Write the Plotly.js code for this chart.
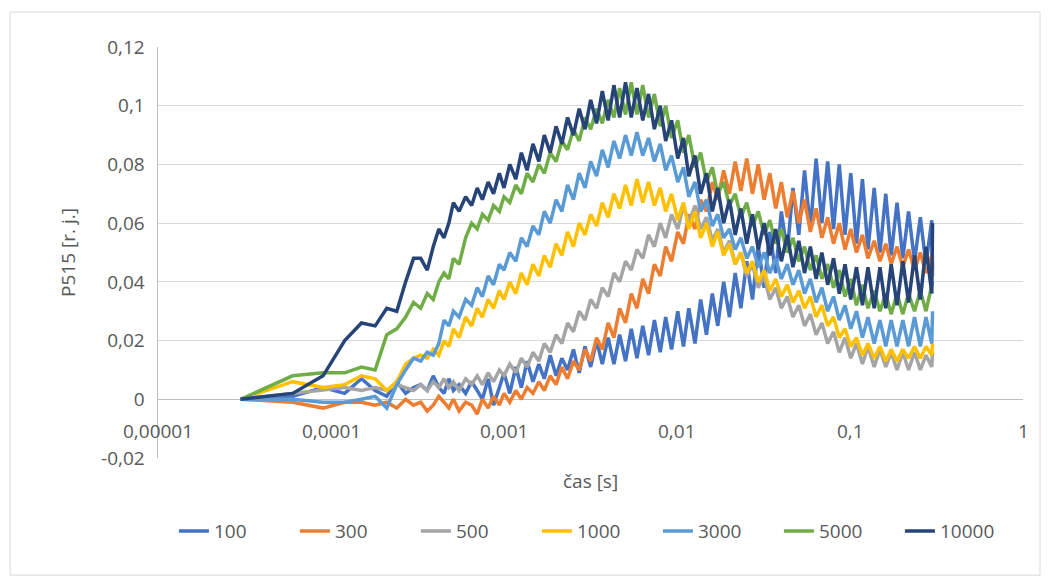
<!DOCTYPE html>
<html>
<head>
<meta charset="utf-8">
<script src="https://cdn.plot.ly/plotly-3.0.1.min.js"></script>
<style>body{margin:0;background:#fff}#chart{width:1049px;height:583px}</style>
</head>
<body>
<div id="chart"></div>
<script>
// time samples [s]
var cas = [3e-5, 6e-5, 9e-5, 1.2e-4, 1.5e-4, 1.8e-4, 2.1e-4, 2.4e-4, 2.7e-4, 3.0e-4,
  3.3e-4, 3.6e-4, 3.9e-4, 4.2e-4, 4.5e-4, 4.8e-4, 5.1e-4, 5.5e-4, 6.0e-4, 6.5e-4,
  7.0e-4, 7.5e-4, 8.1e-4, 8.7e-4, 9.4e-4, 1.0e-3, 1.08e-3, 1.17e-3, 1.26e-3, 1.36e-3,
  1.47e-3, 1.59e-3, 1.71e-3, 1.85e-3, 2.0e-3, 2.16e-3, 2.33e-3, 2.52e-3, 2.72e-3, 2.94e-3,
  3.17e-3, 3.43e-3, 3.70e-3, 4.0e-3, 4.32e-3, 4.66e-3, 5.04e-3, 5.44e-3, 5.87e-3, 6.34e-3,
  6.85e-3, 7.4e-3, 8.0e-3, 8.6e-3, 9.3e-3, 0.0101, 0.0109, 0.0117, 0.0127, 0.0137,
  0.0148, 0.016, 0.0172, 0.0186, 0.0201, 0.0217, 0.0234, 0.0253, 0.0273, 0.0295,
  0.0319, 0.0344, 0.0372, 0.0401, 0.0434, 0.0468, 0.0506, 0.0546, 0.059, 0.0637,
  0.0688, 0.0743, 0.0803, 0.0867, 0.0936, 0.101, 0.109, 0.118, 0.127, 0.138,
  0.149, 0.161, 0.173, 0.187, 0.202, 0.218, 0.236, 0.255, 0.275, 0.297, 0.3];

var s100 = [0, 0.001, 0.004, 0.002, 0.007, 0.003, 0.001, 0.006, 0.002, 0.004,
  0.005, 0.003, 0.008, 0.004, 0.002, 0.007, 0.003, 0.005, 0.002, 0.006,
  0.003, 0.0, 0.007, -0.002, 0.004, 0.009, 0.002, 0.011, 0.004, 0.013,
  0.006, 0.012, 0.007, 0.015, 0.008, 0.014, 0.01, 0.017, 0.009, 0.018,
  0.011, 0.02, 0.012, 0.021, 0.012, 0.022, 0.013, 0.024, 0.014, 0.025,
  0.015, 0.027, 0.016, 0.028, 0.017, 0.03, 0.018, 0.031, 0.019, 0.034,
  0.022, 0.036, 0.025, 0.04, 0.028, 0.043, 0.031, 0.047, 0.034, 0.052,
  0.038, 0.057, 0.043, 0.064, 0.05, 0.072, 0.056, 0.078, 0.058, 0.082,
  0.06, 0.081, 0.058, 0.08, 0.056, 0.077, 0.053, 0.075, 0.051, 0.072,
  0.05, 0.07, 0.049, 0.067, 0.048, 0.064, 0.047, 0.062, 0.046, 0.061, 0.044];

var s300 = [0, -0.001, -0.003, -0.001, -0.001, -0.002, -0.001, -0.003, 0.0, -0.002,
  -0.001, -0.004, -0.002, 0.001, -0.001, -0.003, 0.0, -0.004, -0.001, -0.002,
  -0.005, 0.0, -0.003, 0.001, -0.002, 0.002, -0.001, 0.003, 0.0, 0.004,
  0.002, 0.006, 0.003, 0.008, 0.005, 0.011, 0.007, 0.013, 0.01, 0.017,
  0.013, 0.021, 0.017, 0.026, 0.021, 0.031, 0.026, 0.036, 0.031, 0.041,
  0.036, 0.046, 0.042, 0.052, 0.047, 0.057, 0.053, 0.063, 0.058, 0.068,
  0.064, 0.074, 0.068, 0.078, 0.07, 0.081, 0.071, 0.082, 0.07, 0.08,
  0.068, 0.077, 0.065, 0.074, 0.062, 0.071, 0.06, 0.068, 0.057, 0.065,
  0.055, 0.062, 0.053, 0.06, 0.051, 0.058, 0.05, 0.056, 0.048, 0.054,
  0.047, 0.053, 0.046, 0.052, 0.045, 0.051, 0.044, 0.05, 0.043, 0.049, 0.042];

var s500 = [0, 0.002, 0.003, 0.004, 0.003, 0.004, 0.003, 0.005, 0.004, 0.003,
  0.005, 0.003, 0.006, 0.004, 0.007, 0.004, 0.006, 0.003, 0.007, 0.005,
  0.008, 0.005, 0.009, 0.006, 0.01, 0.008, 0.012, 0.009, 0.014, 0.011,
  0.016, 0.013, 0.019, 0.016, 0.022, 0.019, 0.026, 0.023, 0.03, 0.027,
  0.034, 0.031, 0.038, 0.035, 0.043, 0.04, 0.047, 0.044, 0.051, 0.048,
  0.056, 0.052, 0.06, 0.055, 0.063, 0.058, 0.066, 0.06, 0.066, 0.058,
  0.062, 0.054, 0.058, 0.05, 0.054, 0.046, 0.05, 0.042, 0.046, 0.038,
  0.042, 0.034, 0.038, 0.031, 0.035, 0.028, 0.032, 0.025, 0.029, 0.022,
  0.026, 0.019, 0.023, 0.016, 0.021, 0.014, 0.019, 0.012, 0.018, 0.011,
  0.017, 0.011, 0.016, 0.01, 0.016, 0.01, 0.016, 0.01, 0.015, 0.011, 0.016];

var s1000 = [0, 0.006, 0.004, 0.005, 0.008, 0.007, 0.003, 0.006, 0.012, 0.014,
  0.015, 0.014, 0.017, 0.015, 0.02, 0.018, 0.024, 0.021, 0.028, 0.025,
  0.031, 0.028, 0.034, 0.031, 0.037, 0.034, 0.04, 0.036, 0.043, 0.039,
  0.046, 0.042, 0.049, 0.045, 0.053, 0.049, 0.057, 0.052, 0.06, 0.056,
  0.063, 0.059, 0.067, 0.062, 0.07, 0.065, 0.073, 0.066, 0.075, 0.067,
  0.074, 0.066, 0.072, 0.064, 0.07, 0.061, 0.067, 0.058, 0.064, 0.055,
  0.06, 0.052, 0.057, 0.049, 0.053, 0.046, 0.05, 0.043, 0.047, 0.04,
  0.044, 0.037, 0.041, 0.035, 0.039, 0.033, 0.037, 0.031, 0.035, 0.028,
  0.032, 0.025, 0.028, 0.021, 0.024, 0.018, 0.021, 0.015, 0.019, 0.014,
  0.018, 0.013, 0.017, 0.013, 0.017, 0.014, 0.018, 0.014, 0.018, 0.015, 0.019];

var s3000 = [0, 0.0, -0.001, -0.001, 0.0, 0.001, -0.003, 0.005, 0.01, 0.014,
  0.013, 0.016, 0.015, 0.019, 0.027, 0.025, 0.03, 0.028, 0.034, 0.032,
  0.038, 0.035, 0.042, 0.039, 0.046, 0.044, 0.05, 0.047, 0.055, 0.052,
  0.059, 0.056, 0.064, 0.06, 0.068, 0.064, 0.073, 0.068, 0.077, 0.072,
  0.081, 0.076, 0.085, 0.079, 0.088, 0.082, 0.09, 0.083, 0.091, 0.083,
  0.089, 0.081, 0.087, 0.078, 0.083, 0.074, 0.079, 0.069, 0.074, 0.064,
  0.068, 0.059, 0.063, 0.055, 0.058, 0.051, 0.055, 0.048, 0.052, 0.045,
  0.05, 0.043, 0.048, 0.041, 0.046, 0.039, 0.044, 0.036, 0.041, 0.033,
  0.038, 0.03, 0.035, 0.027, 0.032, 0.024, 0.03, 0.021, 0.028, 0.019,
  0.027, 0.018, 0.027, 0.018, 0.027, 0.018, 0.028, 0.018, 0.028, 0.019, 0.03];

var s5000 = [0, 0.008, 0.009, 0.009, 0.011, 0.01, 0.022, 0.024, 0.028, 0.033,
  0.031, 0.036, 0.034, 0.04, 0.043, 0.041, 0.048, 0.046, 0.055, 0.06,
  0.058, 0.063, 0.061, 0.066, 0.064, 0.069, 0.067, 0.073, 0.07, 0.077,
  0.074, 0.08, 0.077, 0.084, 0.081, 0.088, 0.085, 0.092, 0.088, 0.096,
  0.092, 0.099, 0.094, 0.102, 0.096, 0.106, 0.097, 0.108, 0.097, 0.107,
  0.096, 0.104, 0.093, 0.1, 0.089, 0.095, 0.084, 0.09, 0.079, 0.084,
  0.074, 0.079, 0.07, 0.074, 0.066, 0.07, 0.062, 0.067, 0.059, 0.064,
  0.056, 0.061, 0.053, 0.058, 0.05, 0.055, 0.047, 0.052, 0.044, 0.049,
  0.041, 0.046, 0.038, 0.044, 0.035, 0.041, 0.032, 0.039, 0.031, 0.037,
  0.03, 0.036, 0.029, 0.036, 0.029, 0.036, 0.03, 0.037, 0.03, 0.038, 0.04];

var s10000 = [0, 0.002, 0.008, 0.02, 0.026, 0.025, 0.031, 0.03, 0.04, 0.048,
  0.048, 0.044, 0.052, 0.058, 0.055, 0.06, 0.067, 0.064, 0.069, 0.066,
  0.072, 0.068, 0.074, 0.07, 0.077, 0.072, 0.08, 0.075, 0.084, 0.078,
  0.087, 0.081, 0.09, 0.084, 0.093, 0.087, 0.096, 0.09, 0.099, 0.092,
  0.102, 0.094, 0.105, 0.095, 0.107, 0.096, 0.108, 0.096, 0.106, 0.095,
  0.104, 0.092, 0.1, 0.088, 0.095, 0.082, 0.089, 0.076, 0.083, 0.07,
  0.077, 0.064, 0.072, 0.06, 0.068, 0.056, 0.065, 0.053, 0.063, 0.051,
  0.06, 0.049, 0.058, 0.047, 0.056, 0.045, 0.054, 0.043, 0.052, 0.041,
  0.05, 0.039, 0.048, 0.036, 0.046, 0.034, 0.045, 0.032, 0.045, 0.031,
  0.045, 0.031, 0.046, 0.032, 0.047, 0.033, 0.049, 0.034, 0.052, 0.036, 0.06];

var names = ['100', '300', '500', '1000', '3000', '5000', '10000'];
var series = [s100, s300, s500, s1000, s3000, s5000, s10000];
var colors = ['#4472C4', '#ED7D31', '#A5A5A5', '#FFC000', '#5B9BD5', '#70AD47', '#264478'];
var xTicks = [0.00001, 0.0001, 0.001, 0.01, 0.1, 1];
var xTickText = ['0,00001', '0,0001', '0,001', '0,01', '0,1', '1'];
var yTicks = [-0.02, 0, 0.02, 0.04, 0.06, 0.08, 0.1, 0.12];
var yTickText = ['-0,02', '0', '0,02', '0,04', '0,06', '0,08', '0,1', '0,12'];

var font = {family: 'Open Sans, sans-serif', size: 19, color: '#595959'};

var data = series.map(function(s, i) {
  return {x: cas, y: s, name: names[i], type: 'scatter', mode: 'lines',
    line: {color: colors[i], width: 3.5}};
});

// Excel puts the x labels next to the zero line, so draw them as annotations
var annotations = xTicks.map(function(v, i) {
  return {x: Math.log10(v), y: 0, xref: 'x', yref: 'y', text: xTickText[i],
    showarrow: false, yshift: -32, font: font};
});
annotations.push({x: 0.5, y: -0.056, xref: 'paper', yref: 'paper', text: 'čas [s]',
  showarrow: false, font: font, yanchor: 'middle'});

var layout = {
  width: 1049, height: 583,
  margin: {l: 158, r: 26, t: 47, b: 125},
  paper_bgcolor: '#fff', plot_bgcolor: '#fff',
  font: font,
  showlegend: true,
  legend: {orientation: 'h', x: 0.508, xanchor: 'center', y: -0.178, yanchor: 'middle',
    font: font, entrywidth: 76, entrywidthmode: 'pixels'},
  xaxis: {type: 'log', range: [-5, 0], showgrid: false, showline: false, zeroline: false,
    showticklabels: false, ticks: ''},
  yaxis: {range: [-0.02, 0.12], tickvals: yTicks, ticktext: yTickText,
    showgrid: true, gridcolor: '#D9D9D9', gridwidth: 1,
    zeroline: true, zerolinecolor: '#BFBFBF', zerolinewidth: 1.5,
    showline: true, linecolor: '#BFBFBF', linewidth: 1.5, ticks: '', ticklabelstandoff: 8,
    title: {text: 'P515 [r. j.]', font: font, standoff: 20}},
  annotations: annotations,
  shapes: [{type: 'rect', xref: 'paper', yref: 'paper', x0: -0.171, x1: 1.0197,
    y0: -0.285, y1: 1.085, line: {color: '#D9D9D9', width: 1}}]
};

Plotly.newPlot('chart', data, layout, {staticPlot: true});
</script>
</body>
</html>
